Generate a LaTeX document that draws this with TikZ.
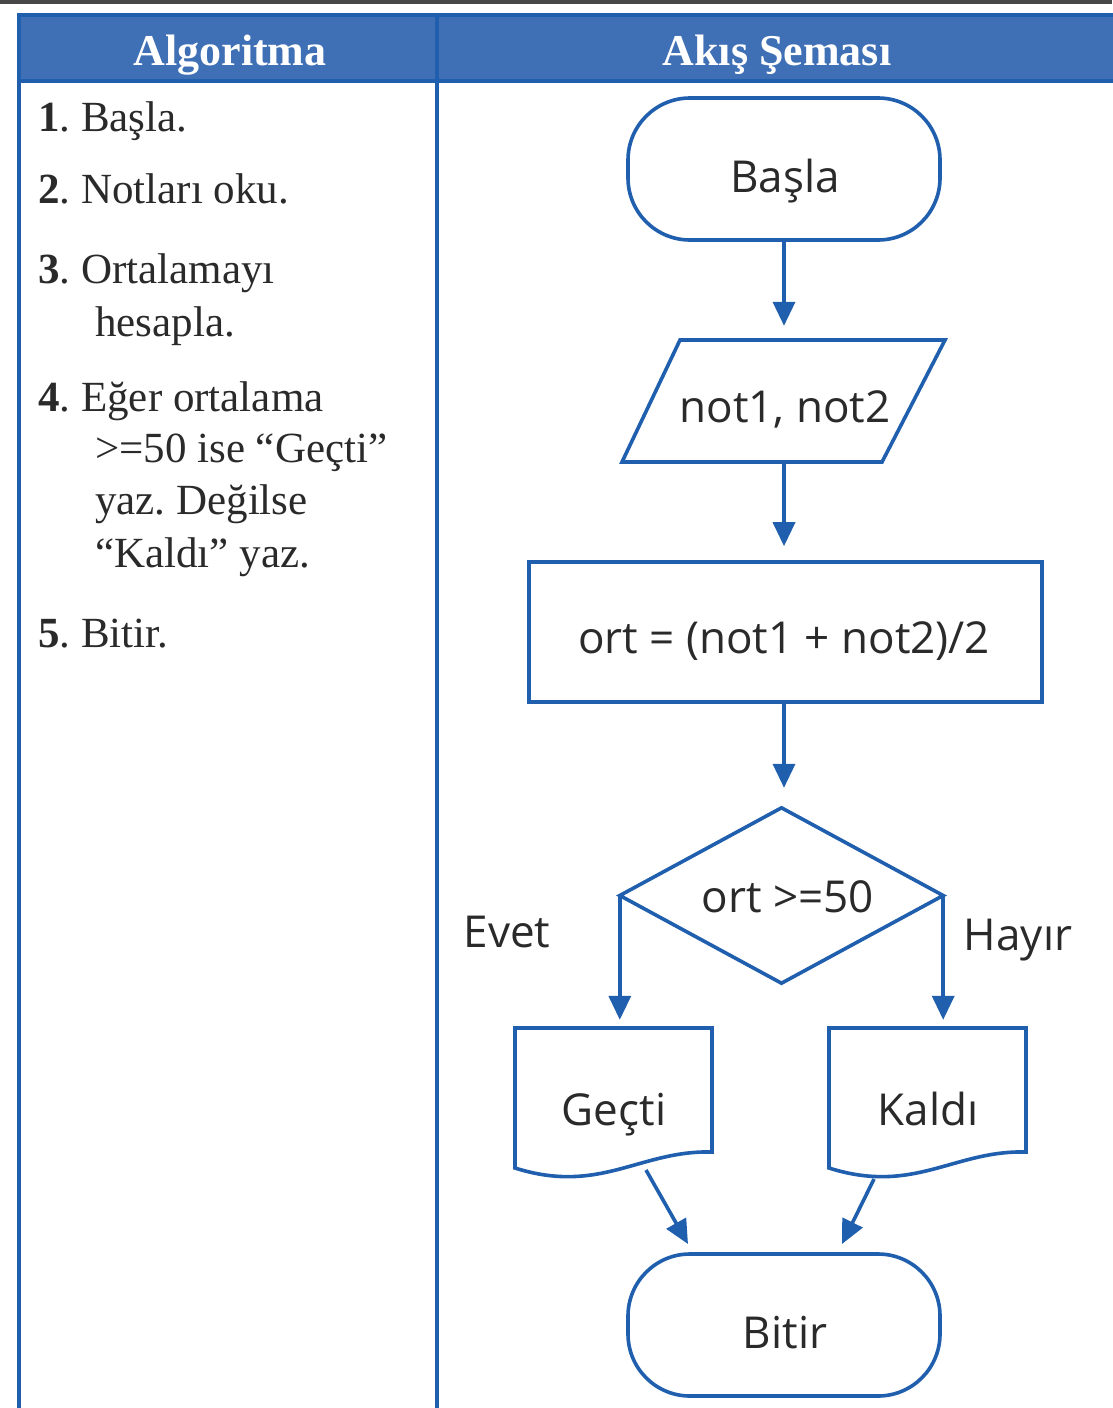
\documentclass[tikz,border=0pt]{standalone}
\usepackage{fontspec}
\setmainfont{Liberation Serif}
\newfontfamily\flowfont{Open Sans}
\usetikzlibrary{arrows.meta,calc}
\frenchspacing

\definecolor{lineblue}{HTML}{1F5FAE}
\definecolor{headblue}{HTML}{3F6FB5}
\definecolor{inkgray}{HTML}{2A2A2A}
\definecolor{topbar}{HTML}{474747}

\tikzset{
  outline/.style={draw=lineblue, line width=3.6pt, line join=miter},
  flowtext/.style={font=\flowfont\fontsize{44}{52}\selectfont, text=inkgray, anchor=base, inner sep=0pt},
  algtext/.style={font=\fontsize{43}{50}\selectfont, text=inkgray, anchor=base west, inner sep=0pt},
  headtext/.style={font=\bfseries\fontsize{44}{50}\selectfont, text=white, anchor=base, inner sep=0pt},
  terminal/.style={outline, rounded corners=62pt, minimum width=312pt, minimum height=142pt},
  flowarrow/.style={draw=lineblue, line width=3.6pt, -{Triangle[length=24pt,width=22pt]}}
}

\begin{document}
\begin{tikzpicture}[x=1pt,y=-1pt]
  \useasboundingbox (0,0) rectangle (1112,1408);
  \fill[white] (0,0) rectangle (1112,1408);
  \fill[topbar] (0,0) rectangle (1112,4);

  % table frame and header
  \fill[headblue] (19,15) rectangle (1116,81);
  \draw[lineblue, line width=3.6pt] (1116,15) -- (19,15) -- (19,1412);
  \draw[lineblue, line width=3.6pt] (19,81) -- (1116,81);
  \draw[lineblue, line width=3.6pt] (437,15) -- (437,1412);
  \node[headtext] (h1) at (230,65) {Algoritma};
  \node[headtext] (h2) at (777,65) {Akış Şeması};

  % algorithm steps
  \node[algtext] (s1)  at (38,131) {\textbf{1}. Başla.};
  \node[algtext] (s2)  at (38,203) {\textbf{2}. Notları oku.};
  \node[algtext] (s3)  at (38,283) {\textbf{3}. Ortalamayı};
  \node[algtext] (s3b) at (95,336) {hesapla.};
  \node[algtext] (s4)  at (38,411) {\textbf{4}. Eğer ortalama};
  \node[algtext] (s4b) at (95,462) {>=50 ise “Geçti”};
  \node[algtext] (s4c) at (95,514) {yaz. Değilse};
  \node[algtext] (s4d) at (95,567) {“Kaldı” yaz.};
  \node[algtext] (s5)  at (38,647) {\textbf{5}. Bitir.};

  % flowchart shapes
  \node[terminal] (basla) at (784,169) {};
  \node[flowtext] (basla-t) at (785,192) {Başla};

  \node[minimum width=260pt, minimum height=122pt, inner sep=0pt] (io) at (783,401) {};
  \draw[outline] (680,340) -- (945,340) -- (882,462) -- (622,462) -- cycle;
  \node[flowtext] (io-t) at (785,422) {not1, not2};

  \node[outline, minimum width=513pt, minimum height=140pt, inner sep=0pt] (calc) at (785.5,632) {};
  \node[flowtext] (calc-t) at (784,653) {ort = (not1 + not2)/2};

  \node[minimum width=323pt, minimum height=175pt, inner sep=0pt] (dec) at (781.5,895.5) {};
  \draw[outline] (dec.north) -- (dec.east) -- (dec.south) -- (dec.west) -- cycle;
  \node[flowtext] (dec-t) at (788,912) {ort >=50};

  % output documents
  \node[minimum width=197pt, minimum height=130pt, inner sep=0pt] (gecti) at (613.5,1093) {};
  \draw[outline] (515,1168) -- (515,1028) -- (712,1028) -- (712,1152)
    .. controls (640,1150) and (600,1195) .. cycle;
  \node[flowtext] (gecti-t) at (614,1125) {Geçti};
  \coordinate (gecti-out) at (646,1170);

  \node[minimum width=197pt, minimum height=130pt, inner sep=0pt] (kaldi) at (927.5,1093) {};
  \draw[outline] (829,1168) -- (829,1028) -- (1026,1028) -- (1026,1152)
    .. controls (954,1150) and (914,1195) .. cycle;
  \node[flowtext] (kaldi-t) at (928,1125) {Kaldı};
  \coordinate (kaldi-out) at (874,1179);

  \node[terminal] (bitir) at (784,1325) {};
  \node[flowtext] (bitir-t) at (785,1348) {Bitir};
  \coordinate (bitir-in-l) at (688,1244);
  \coordinate (bitir-in-r) at (842,1244);

  % connectors
  \draw[flowarrow, shorten >=14pt] (basla.south) -- (basla.south |- io.north);
  \draw[flowarrow, shorten >=14pt] (io.south -| basla.south) -- (basla.south |- calc.north);
  \draw[flowarrow, shorten >=20pt] (calc.south -| basla.south) -- (basla.south |- dec.north);
  \draw[flowarrow, shorten >=8pt] (dec.west) -- (dec.west |- gecti.north);
  \draw[flowarrow, shorten >=8pt] (dec.east) -- (dec.east |- kaldi.north);
  \draw[flowarrow] (gecti-out) -- (bitir-in-l);
  \draw[flowarrow] (kaldi-out) -- (bitir-in-r);

  \node[flowtext] (evet) at (507,947) {Evet};
  \node[flowtext] (hayir) at (1018,950) {Hayır};
\end{tikzpicture}
\end{document}
